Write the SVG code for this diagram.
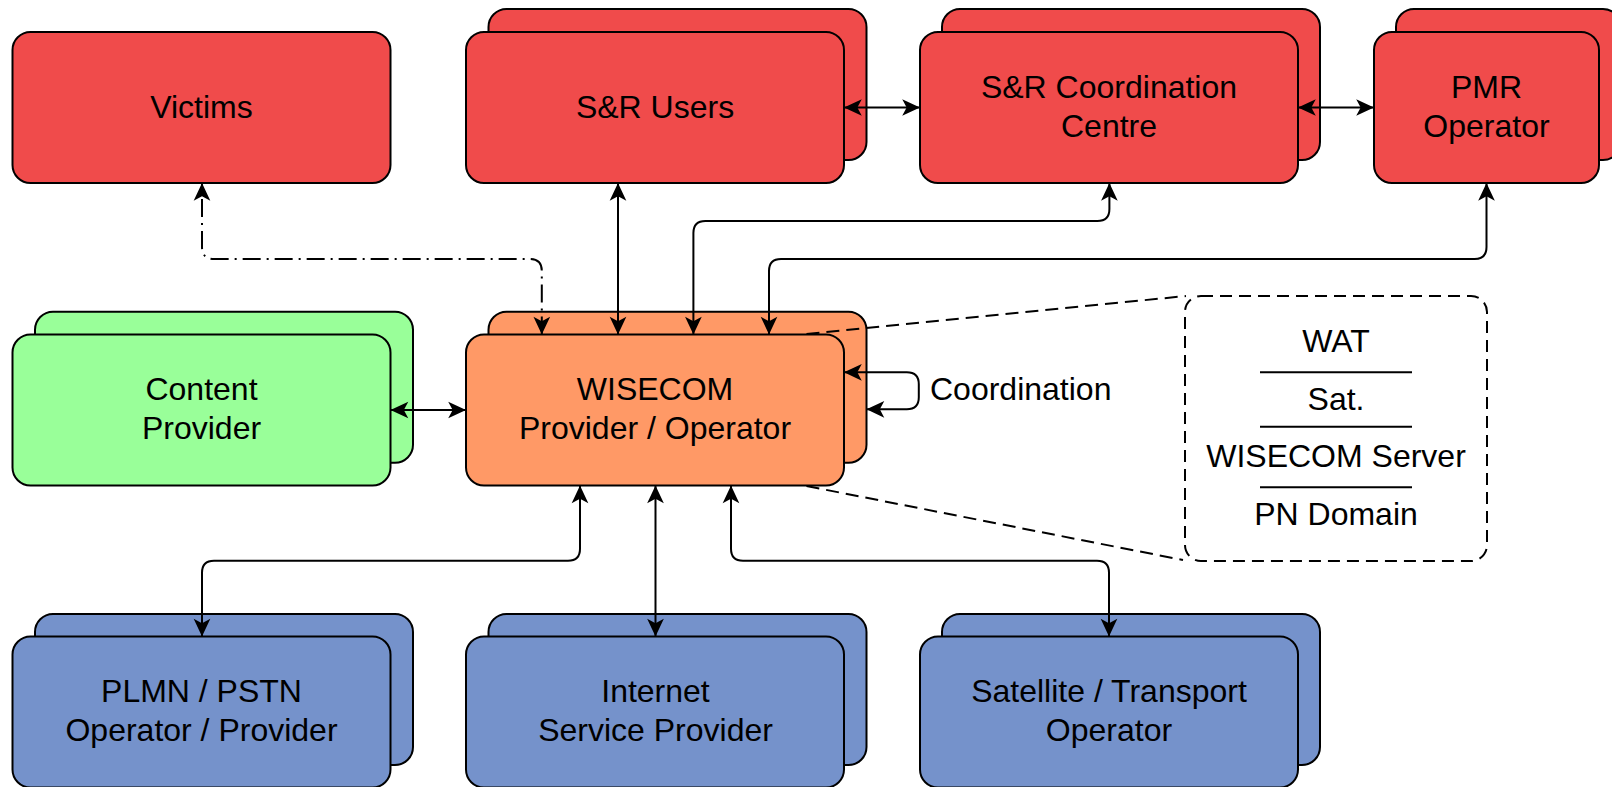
<svg xmlns="http://www.w3.org/2000/svg" width="1612" height="787" viewBox="0 0 1612 787">
<style>
.box{stroke:#000;stroke-width:2}
.red{fill:#F04B4B}
.green{fill:#99FF99}
.orange{fill:#FF9966}
.blue{fill:#7592CB}
text{font-family:"Liberation Sans",Arial,sans-serif;font-size:32px;fill:#000;text-anchor:middle}
.con{fill:none;stroke:#000;stroke-width:2;marker-start:url(#arr);marker-end:url(#arr)}
.dd{fill:none;stroke:#000;stroke-width:2;stroke-dasharray:18 6 2 6;marker-start:url(#arr);marker-end:url(#arr)}
.dash{fill:none;stroke:#000;stroke-width:2;stroke-dasharray:13 7}
.sep{stroke:#000;stroke-width:2}
</style>
<defs>
<marker id="arr" markerUnits="userSpaceOnUse" markerWidth="20" markerHeight="20" viewBox="-17 -9 18 18" refX="0" refY="0" orient="auto-start-reverse">
<path d="M0,0 L-16,-7.5 L-12,0 L-16,7.5 Z" fill="#000"/>
</marker>
</defs>

<g id="victims">
<rect class="box red" x="12.5" y="32" width="378" height="151" rx="18"/>
<text x="201.5" y="117.8">Victims</text>
</g>
<g id="sr-users">
<rect class="box red" x="488.5" y="9" width="378" height="151" rx="18"/>
<rect class="box red" x="466" y="32" width="378" height="151" rx="18"/>
<text x="655" y="117.8">S&amp;R Users</text>
</g>
<g id="sr-coordination-centre">
<rect class="box red" x="942" y="9" width="378" height="151" rx="18"/>
<rect class="box red" x="920" y="32" width="378" height="151" rx="18"/>
<text x="1109" y="97.7">S&amp;R Coordination</text>
<text x="1109" y="136.7">Centre</text>
</g>
<g id="pmr-operator">
<rect class="box red" x="1396" y="9" width="225" height="151" rx="18"/>
<rect class="box red" x="1374" y="32" width="225" height="151" rx="18"/>
<text x="1486.5" y="97.7">PMR</text>
<text x="1486.5" y="136.7">Operator</text>
</g>
<g id="content-provider">
<rect class="box green" x="35" y="311.7" width="378" height="151" rx="18"/>
<rect class="box green" x="12.5" y="334.5" width="378" height="151" rx="18"/>
<text x="201.5" y="400">Content</text>
<text x="201.5" y="438.5">Provider</text>
</g>
<g id="wisecom">
<rect class="box orange" x="488.5" y="311.7" width="378" height="151" rx="18"/>
<rect class="box orange" x="466" y="334.5" width="378" height="151" rx="18"/>
<text x="655" y="400">WISECOM</text>
<text x="655" y="438.5">Provider / Operator</text>
</g>
<g id="plmn">
<rect class="box blue" x="35" y="614" width="378" height="151" rx="18"/>
<rect class="box blue" x="12.5" y="636.5" width="378" height="151" rx="18"/>
<text x="201.5" y="702.3">PLMN / PSTN</text>
<text x="201.5" y="740.5">Operator / Provider</text>
</g>
<g id="isp">
<rect class="box blue" x="488.5" y="614" width="378" height="151" rx="18"/>
<rect class="box blue" x="466" y="636.5" width="378" height="151" rx="18"/>
<text x="655.5" y="702.3">Internet</text>
<text x="655.5" y="740.5">Service Provider</text>
</g>
<g id="satellite">
<rect class="box blue" x="942" y="614" width="378" height="151" rx="18"/>
<rect class="box blue" x="920" y="636.5" width="378" height="151" rx="18"/>
<text x="1109" y="702.3">Satellite / Transport</text>
<text x="1109" y="740.5">Operator</text>
</g>
<g id="wisecom-detail">
<rect x="1185" y="296" width="302" height="265" rx="16" fill="none" stroke="#000" stroke-width="2" stroke-dasharray="12 7"/>
<text x="1336" y="351.7">WAT</text>
<line class="sep" x1="1260" y1="372.3" x2="1412" y2="372.3"/>
<text x="1336" y="410">Sat.</text>
<line class="sep" x1="1260" y1="426.7" x2="1412" y2="426.7"/>
<text x="1336" y="467.3">WISECOM Server</text>
<line class="sep" x1="1260" y1="487.3" x2="1412" y2="487.3"/>
<text x="1336" y="525">PN Domain</text>
</g>

<g id="connectors">
<path class="dd" d="M541.8,334.5 L541.8,271 Q541.8,259 529.8,259 L214,259 Q202,259 202,247 L202,183"/>
<path class="con" d="M618,334.5 L618,183"/>
<path class="con" d="M844,107.5 L920,107.5"/>
<path class="con" d="M1298,107.5 L1374,107.5"/>
<path class="con" d="M693.4,334.5 L693.4,233 Q693.4,221 705.4,221 L1097.4,221 Q1109.4,221 1109.4,209 L1109.4,183"/>
<path class="con" d="M769,334.5 L769,271 Q769,259 781,259 L1474.5,259 Q1486.5,259 1486.5,247 L1486.5,183"/>
<path class="con" d="M390.5,410 L466,410"/>
<path class="con" d="M866.5,409.3 L906.8,409.3 Q918.8,409.3 918.8,397.3 L918.8,384.3 Q918.8,372.3 906.8,372.3 L844,372.3"/>
<path class="con" d="M580,485.5 L580,548.7 Q580,560.7 568,560.7 L214,560.7 Q202,560.7 202,572.7 L202,636.5"/>
<path class="con" d="M655.5,485.5 L655.5,636.5"/>
<path class="con" d="M731,485.5 L731,548.7 Q731,560.7 743,560.7 L1097,560.7 Q1109,560.7 1109,572.7 L1109,636.5"/>
<path class="dash" d="M806.5,334 L1186,296"/>
<path class="dash" d="M806.5,486 L1183,560"/>
</g>
<text x="930" y="400" style="text-anchor:start">Coordination</text>
</svg>
